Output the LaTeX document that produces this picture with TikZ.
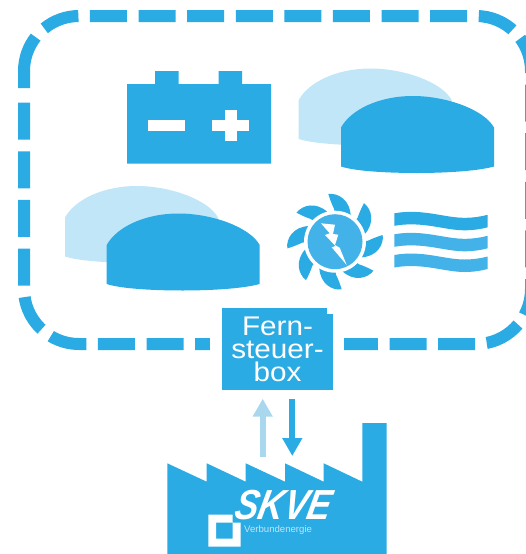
\documentclass[tikz,border=0pt]{standalone}
\usepackage{fontspec}
\setmainfont{Liberation Sans}
\usetikzlibrary{arrows.meta}

\definecolor{skvblue}{HTML}{2BABE4}
\definecolor{skvcore}{HTML}{42B2E8}
\definecolor{skvpale}{HTML}{C1E6F8}
\definecolor{skvarrow}{HTML}{A9D8EE}
\definecolor{skvsub}{HTML}{BFE5F7}

\tikzset{
    grenze/.style={
        draw=skvblue,
        line width=12pt
    },
    gestrichelt/.style={
        grenze,
        dash pattern=on 37pt off 11.6pt
    },
    pfeil/.style={
        line width=6pt,
        -{Triangle[length=18pt,width=19pt]}
    },
    boxtext/.style={
        align=center,
        text=white,
        font=\fontsize{27}{23}\selectfont,
        inner sep=0pt
    },
    fernbox/.style={
        fill=skvblue,
        minimum width=111pt,
        minimum height=82pt,
        inner sep=0pt
    },
    dome/.pic={
        \fill[pic actions]
            (0,0)
            .. controls (10,-18) and (38,-31.5) .. (72,-31.5)
            .. controls (105,-31.5) and (143,-18) .. (153,0)
            -- (153,39)
            .. controls (135,44) and (100,45.5) .. (76,45.5)
            .. controls (50,45.5) and (15,44) .. (0,39)
            -- cycle;
    },
    welle/.pic={
        \fill[pic actions]
            (0,0)
            .. controls (28,-5) and (50,4.5) .. (70,4.5)
            .. controls (78,4.5) and (86,3.5) .. (93.3,1.5)
            -- (93.3,14)
            .. controls (86,16) and (78,17) .. (70,17)
            .. controls (50,17) and (28,7.5) .. (0,12.5)
            -- cycle;
    }
}

\begin{document}
\begin{tikzpicture}[x=1pt,y=-1pt]

    \useasboundingbox (0,0) rectangle (526,554);

    % gestrichelter Rahmen
    \draw[gestrichelt]
        (79,71) ++(230.8:55)
        arc[start angle=230.8,end angle=270,radius=55]
        -- (476,16)
        arc[start angle=270,end angle=360,radius=55]
        -- (531,289)
        arc[start angle=0,end angle=90,radius=55]
        -- (79,344)
        arc[start angle=90,end angle=180,radius=55]
        -- (24,95);
    \draw[grenze]
        (24,88) -- (24,71)
        arc[start angle=180,end angle=218,radius=55];

    % Batterie
    \fill[skvblue] (127,84) -| (155,71) -| (178.5,84) -| (218.5,71) -| (242,84)
        -| (271,163.5) -| cycle;
    \fill[white] (148,120) rectangle (184.5,131);
    \fill[white] (212,120) rectangle (249,131);
    \fill[white] (224.5,110) rectangle (236.5,141);

    % Speicher
    \pic[fill=skvpale] at (298.7,100) {dome};
    \pic[fill=skvblue] at (341,127.5) {dome};
    \pic[fill=skvpale] at (65,217.5) {dome};
    \pic[fill=skvblue] at (106.7,245) {dome};

    % Turbine
    \foreach \a in {0,45,...,315} {
        \fill[skvblue, shift={(335,241.7)}, rotate=-\a]
            (-6.7,-47.7)
            .. controls (3,-49) and (15,-42) .. (15.7,-26)
            -- (0,-26) -- (-1,-33)
            .. controls (-3,-37) and (-5,-42) .. (-6.7,-47.7)
            -- cycle;
    }
    \fill[white] (335,241.7) circle[radius=31];
    \fill[skvcore] (335,241.7) circle[radius=27.5];
    \fill[white] (321,223.3) -- (335,224.7) -- (333,234) -- (338.3,234.7)
        -- (335,245) -- (339.7,247.7) -- (346.7,265) -- (331.7,247.3)
        -- (335.5,246) -- (325,235) -- (329.7,233.3) -- cycle;

    % Wasser
    \pic[fill=skvblue] at (394.3,213.3) {welle};
    \pic[fill=skvcore] at (394.3,234.3) {welle};
    \pic[fill=skvcore] at (394.3,255) {welle};

    % Fernsteuerbox
    \fill[white] (209.5,335) rectangle (344,355);
    \node[fernbox] (box) at (277.5,349) {};
    \fill[white] (327,307) rectangle (334,314);
    \node[boxtext] (boxlabel) at (277.5,349) {\scalebox{1.1}[1]{Fern-}\\\scalebox{1.1}[1]{steuer-}\\\scalebox{1.1}[1]{box}};

    % Fabrik
    \fill[skvblue] (167.3,554) -- (167.3,463.3)
        -- (206.7,481.7) -- (206.7,463.3)
        -- (245.7,481.7) -- (245.7,463.3)
        -- (285,481.7) -- (285,463.3)
        -- (323.7,481.7) -- (323.7,463.3)
        -- (362.3,481.7) -- (362.3,423)
        -- (386.7,423) -- (386.7,554) -- cycle;

    % Logo
    \node[text=white, inner sep=0pt, xslant=.2, transform shape, font=\fontsize{42}{42}\selectfont\bfseries\itshape] (skve) at (284,505) {\scalebox{.84}[1]{SKVE}};
    \node[text=skvsub, inner sep=0pt, font=\fontsize{9.6}{10}\selectfont, anchor=base west] (verbund) at (244,532) {Verbundenergie};
    \fill[white, even odd rule] (208.3,514.7) -- (232.7,514.7) -- (232.7,522.7)
        -- (240.7,522.7) -- (240.7,546.7) -- (208.3,546.7) -- cycle
        (216,522.7) rectangle (232.7,538.7);

    % Pfeile
    \coordinate (auf1) at (262.7,456.7);
    \coordinate (auf2) at (262.7,398.7);
    \coordinate (ab1) at (292.3,398.7);
    \coordinate (ab2) at (292.3,456);
    \draw[pfeil, skvarrow] (auf1) -- (auf2);
    \draw[pfeil, skvblue] (ab1) -- (ab2);

\end{tikzpicture}
\end{document}
